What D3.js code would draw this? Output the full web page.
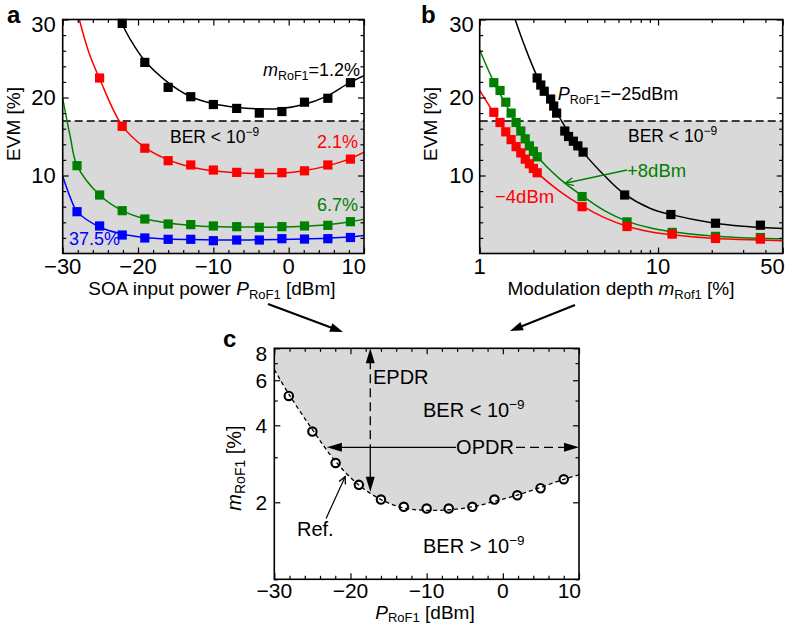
<!DOCTYPE html>
<html><head><meta charset="utf-8">
<script src="https://cdn.jsdelivr.net/npm/d3@7"></script>
<style>
body{margin:0;background:#fff}
svg{display:block;font-family:"Liberation Sans",Arial,Helvetica,sans-serif}
</style></head><body>
<svg id="fig" width="795" height="626"></svg>
<script>
// ---------- panel a: EVM vs SOA input power, one series per modulation depth ----------
const powerA = [-28.1, -25.1, -22.1, -19.1, -16, -13, -10, -6.9, -3.9, -0.9, 2.1, 5.2, 8.2];
const evmA_m12  = [null, null, 29.5, 24.5, 21.3, 20.1, 19.1, 18.6, 18.0, 18.2, 19.4, 19.9, 21.9];
const evmA_m21  = [null, 22.5, 16.3, 13.5, 11.9, 11.35, 10.7, 10.4, 10.28, 10.36, 10.6, 11.35, 12.1];
const evmA_m67  = [11.26, 7.5, 5.49, 4.42, 3.78, 3.7, 3.53, 3.44, 3.36, 3.44, 3.53, 3.61, 4.08];
const evmA_m375 = [5.36, 3.53, 2.37, 1.99, 1.82, 1.82, 1.64, 1.73, 1.73, 1.9, 1.85, 1.9, 2.05];
// fitted curves (power, EVM)
const fitA_m12  = [[-22.4,30],[-21,27.4],[-19.1,24.7],[-16,21.9],[-13,20.1],[-10,19.2],[-7,18.75],[-4,18.55],[-1,18.6],[2,19.1],[5,20.15],[8,21.85],[10,22.8]];
const fitA_m21  = [[-27.8,30],[-26.5,25.7],[-25.1,22.4],[-22.1,16.4],[-19.1,13.6],[-16,12.0],[-13,11.1],[-10,10.6],[-7,10.35],[-4,10.25],[-1,10.3],[2,10.6],[5,11.2],[8,12.1],[10,13.0]];
const fitA_m67  = [[-30,19.9],[-29,15.0],[-28.1,11.3],[-25.1,7.5],[-22.1,5.5],[-19.1,4.45],[-16,3.9],[-13,3.6],[-10,3.45],[-7,3.4],[-4,3.38],[-1,3.4],[2,3.5],[5,3.7],[8,4.05],[10,4.4]];
const fitA_m375 = [[-30,9.9],[-29,7.2],[-28.1,5.4],[-25.1,3.4],[-22.1,2.5],[-19.1,2.05],[-16,1.85],[-13,1.78],[-10,1.74],[-7,1.74],[-4,1.75],[-1,1.8],[2,1.86],[5,1.95],[8,2.1],[10,2.3]];

// ---------- panel b: EVM vs modulation depth, one series per SOA input power ----------
const mB_p8  = [1.2, 1.3, 1.4, 1.5, 1.6, 1.7, 1.8, 1.9, 2.0, 2.1, 3.75, 6.7, 12, 21, 37.5];
const evmB_p8  = [21.9, 20.9, 19.4, 18.0, 16.8, 15.7, 14.7, 13.8, 13.1, 12.4, 7.3, 4.05, 2.7, 2.2, 2.05];
const mB_m4  = [1.2, 1.3, 1.4, 1.5, 1.6, 1.7, 1.8, 1.9, 2.0, 2.1, 3.75, 6.7, 12, 21, 37.5];
const evmB_m4  = [18.1, 16.8, 15.6, 14.6, 13.7, 12.9, 12.1, 11.5, 10.9, 10.35, 6.0, 3.46, 2.48, 1.93, 1.84];
const mB_m25 = [2.1, 2.2, 2.3, 2.5, 2.6, 2.7, 3.0, 3.15, 3.35, 3.55, 3.8, 6.5, 11.8, 21, 37.5];
const evmB_m25 = [22.5, 21.6, 20.8, 19.8, 18.9, 18.0, 15.7, 15.0, 14.4, 13.8, 13.0, 7.5, 5.0, 3.88, 3.63];
const fitB_m25 = [[1.58,30],[1.8,26.4],[2.1,22.7],[2.5,19.5],[3,16.3],[3.8,13.0],[5,10.0],[6.5,7.6],[9,5.8],[12,4.95],[20,3.95],[30,3.5],[50,3.2]];
const fitB_p8  = [[1,26.1],[1.2,22.0],[1.5,17.9],[2.1,12.5],[2.8,9.6],[3.75,7.4],[5,5.5],[6.7,4.15],[9,3.3],[12,2.8],[20,2.25],[37.5,1.95],[50,1.88]];
const fitB_m4  = [[1,20.9],[1.2,18.0],[1.5,14.6],[2.1,10.4],[2.8,8.0],[3.75,6.1],[5,4.6],[6.7,3.5],[9,2.8],[12,2.4],[20,1.95],[37.5,1.72],[50,1.65]];

// ---------- panel c: required modulation depth for BER = 1e-9 ----------
const powerC = [-28.1, -25, -21.95, -18.9, -16, -13, -10, -7.1, -4, -1.1, 1.9, 4.95, 8];
const mC     = [5.21, 3.78, 2.85, 2.34, 2.05, 1.92, 1.89, 1.89, 1.92, 2.05, 2.13, 2.27, 2.46];
const fitC   = [[-30,6.6],[-28.1,5.3],[-25,3.85],[-22,2.9],[-19,2.35],[-16,2.05],[-13,1.9],[-10,1.86],[-7,1.87],[-4,1.92],[-1,2.02],[2,2.14],[5,2.29],[8,2.46],[10,2.56]];

// tick values
const evmTicks = [10, 20, 30];
const evmMinor = d3.range(2, 30, 2).filter(v => v % 10 !== 0);
const powerTicks = [-30, -20, -10, 0, 10];
const powerMinor = d3.range(-28, 10, 2).filter(v => v % 10 !== 0);
const depthTicks = [1, 10, 50];
const depthMinor = [2,3,4,5,6,7,8,9,20,30,40];
const mcTicks = [2, 4, 6, 8];
const mcMinor = [1, 3, 5, 7];
const berLimit = 17;

const C = {red: "#ff0000", green: "#008000", blue: "#0000ff", black: "#000000", grey: "#d9d9d9"};

const svg = d3.select("#fig");
const fmt = d3.format("d");

function rich(g, x, y, parts, o) {
  const size = o.size;
  const t = g.append("text").attr("x", x).attr("y", y)
    .attr("font-size", size).attr("fill", o.fill || "#000")
    .attr("text-anchor", o.anchor || "start");
  if (o.rotate) t.attr("transform", `rotate(-90 ${x} ${y})`);
  let shift = 0;
  const subShift = o.subShift || 0.22;
  parts.forEach(p => {
    const s = t.append("tspan").text(p.t);
    let target = 0;
    if (p.sub) { s.attr("font-size", o.subSize || size * 0.7); target = size * subShift; }
    if (p.sup) { s.attr("font-size", o.subSize || size * 0.7); target = -size * 0.42; }
    if (p.it) s.attr("font-style", "italic");
    if (target - shift !== 0) s.attr("dy", target - shift);
    shift = target;
  });
  return t;
}

// frame with inward ticks on all four sides
function frame(g, x, y, xt, xm, yt, ym, o) {
  const [x0, x1] = x.range(), [y0, y1] = y.range();
  const axes = [
    [d3.axisBottom, x, y0, "x"], [d3.axisTop, x, y1, "x"],
    [d3.axisLeft, y, x0, "y"], [d3.axisRight, y, x1, "y"]];
  axes.forEach(([fn, sc, pos, dir]) => {
    const tr = dir === "x" ? `translate(0,${pos})` : `translate(${pos},0)`;
    const maj = dir === "x" ? xt : yt, mn = dir === "x" ? xm : ym;
    [[maj, 6], [mn, 3.5]].forEach(([vals, len]) => {
      const a = g.append("g").attr("transform", tr)
        .call(fn(sc).tickValues(vals).tickSize(-len).tickFormat(""));
      a.select(".domain").remove();
      a.selectAll("line").attr("stroke", "#000").attr("stroke-width", 1.2);
    });
  });
  g.append("rect").attr("x", x0).attr("y", y1).attr("width", x1 - x0).attr("height", y0 - y1)
    .attr("fill", "none").attr("stroke", "#000").attr("stroke-width", 1.6);
  // tick labels
  const fs = o.fs || 22;
  const xoff = o.xoff || 20;
  xt.forEach((v, i) => {
    const last = i === xt.length - 1;
    g.append("text").attr("x", last ? x1 + 2 : x(v)).attr("y", y0 + xoff)
      .attr("text-anchor", last ? "end" : "middle").attr("font-size", fs).text(o.xfmt(v));
  });
  yt.forEach(v => {
    if (o.ylab && !o.ylab.includes(v)) return;
    const yy = Math.max(y(v), y1 + 5);
    g.append("text").attr("x", x0 - o.ygap).attr("y", yy).attr("dy", "0.36em")
      .attr("text-anchor", "end").attr("font-size", fs).text(fmt(v));
  });
}

function clip(id, x, y) {
  const [x0, x1] = x.range(), [y0, y1] = y.range();
  svg.append("clipPath").attr("id", id).append("rect")
    .attr("x", x0).attr("y", y1).attr("width", x1 - x0).attr("height", y0 - y1);
}

function arrowHead(g, tip, from, len, wid, filled, color) {
  const dx = tip[0] - from[0], dy = tip[1] - from[1], L = Math.hypot(dx, dy);
  const ux = dx / L, uy = dy / L, px = -uy, py = ux;
  const bx = tip[0] - ux * len, by = tip[1] - uy * len;
  const p1 = [bx + px * wid / 2, by + py * wid / 2], p2 = [bx - px * wid / 2, by - py * wid / 2];
  if (filled) {
    g.append("path").attr("d", `M${tip}L${p1}L${p2}Z`).attr("fill", color);
  } else {
    g.append("path").attr("d", `M${p1}L${tip}L${p2}`).attr("fill", "none")
      .attr("stroke", color).attr("stroke-width", 1.3);
  }
}

function squares(g, xs, ys, x, y, color) {
  g.selectAll(null).data(xs.map((v, i) => [v, ys[i]]).filter(d => d[1] != null))
    .join("rect")
    .attr("x", d => x(d[0]) - 4.6).attr("y", d => y(d[1]) - 4.6)
    .attr("width", 9.2).attr("height", 9.2).attr("fill", color);
}

function fitLine(g, pts, x, y, color, clipId) {
  g.append("path").datum(pts)
    .attr("d", d3.line().x(d => x(d[0])).y(d => y(d[1])).curve(d3.curveCatmullRom.alpha(0.5)))
    .attr("fill", "none").attr("stroke", color).attr("stroke-width", 1.5)
    .attr("clip-path", `url(#${clipId})`);
}

// ================= panel a =================
const xA = d3.scaleLinear().domain([-30, 10]).range([62.7, 364]);
const yA = d3.scaleLinear().domain([0, 30]).range([253.5, 19.5]);
clip("clipA", xA, yA);
const gA = svg.append("g");
gA.append("rect").attr("x", xA(-30)).attr("y", yA(berLimit)).attr("width", xA(10) - xA(-30))
  .attr("height", yA(0) - yA(berLimit)).attr("fill", C.grey);
gA.append("line").attr("x1", xA(-30)).attr("x2", xA(10)).attr("y1", yA(berLimit)).attr("y2", yA(berLimit))
  .attr("stroke", "#000").attr("stroke-width", 1.5).attr("stroke-dasharray", "8,4");
[[fitA_m12, C.black], [fitA_m21, C.red], [fitA_m67, C.green], [fitA_m375, C.blue]]
  .forEach(([p, c]) => fitLine(gA, p, xA, yA, c, "clipA"));
[[evmA_m12, C.black], [evmA_m21, C.red], [evmA_m67, C.green], [evmA_m375, C.blue]]
  .forEach(([v, c]) => squares(gA, powerA, v, xA, yA, c));
frame(gA, xA, yA, powerTicks, powerMinor, evmTicks, evmMinor, {xfmt: fmt, ygap: 7});
rich(gA, 263, 76, [{t: "m", it: true}, {t: "RoF1", sub: true}, {t: "=1.2%"}], {size: 18, subSize: 12.5});
rich(gA, 170, 143, [{t: "BER < 10"}, {t: "−9", sup: true}], {size: 17.5, subSize: 12});
rich(gA, 358, 148, [{t: "2.1%"}], {size: 18, fill: C.red, anchor: "end"});
rich(gA, 358, 211, [{t: "6.7%"}], {size: 18, fill: C.green, anchor: "end"});
rich(gA, 69, 245, [{t: "37.5%"}], {size: 18, fill: C.blue});
rich(gA, 212, 295, [{t: "SOA input power "}, {t: "P", it: true}, {t: "RoF1", sub: true}, {t: " [dBm]"}],
  {size: 19, subSize: 13, anchor: "middle"});
rich(gA, 20, 124, [{t: "EVM [%]"}], {size: 19, anchor: "middle", rotate: true});
svg.append("text").attr("x", 7).attr("y", 23).attr("font-size", 24).attr("font-weight", "bold").text("a");

// ================= panel b =================
const xB = d3.scaleLog().domain([1, 50]).range([479.7, 782.7]);
const yB = d3.scaleLinear().domain([0, 30]).range([253.5, 19.5]);
clip("clipB", xB, yB);
const gB = svg.append("g");
gB.append("rect").attr("x", xB(1)).attr("y", yB(berLimit)).attr("width", xB(50) - xB(1))
  .attr("height", yB(0) - yB(berLimit)).attr("fill", C.grey);
gB.append("line").attr("x1", xB(1)).attr("x2", xB(50)).attr("y1", yB(berLimit)).attr("y2", yB(berLimit))
  .attr("stroke", "#000").attr("stroke-width", 1.5).attr("stroke-dasharray", "8,4");
[[fitB_m25, C.black], [fitB_p8, C.green], [fitB_m4, C.red]]
  .forEach(([p, c]) => fitLine(gB, p, xB, yB, c, "clipB"));
squares(gB, mB_m25, evmB_m25, xB, yB, C.black);
squares(gB, mB_p8, evmB_p8, xB, yB, C.green);
squares(gB, mB_m4, evmB_m4, xB, yB, C.red);
frame(gB, xB, yB, depthTicks, depthMinor, evmTicks, evmMinor, {xfmt: fmt, ygap: 6});
rich(gB, 557.7, 100, [{t: "P", it: true}, {t: "RoF1", sub: true}, {t: "=−25dBm"}], {size: 18, subSize: 12.5});
rich(gB, 628, 142, [{t: "BER < 10"}, {t: "−9", sup: true}], {size: 17.5, subSize: 12});
rich(gB, 627, 177, [{t: "+8dBm"}], {size: 18.5, fill: C.green});
rich(gB, 495, 203, [{t: "−4dBm"}], {size: 18.5, fill: C.red});
{
  const from = [xB(6.7), yB(10.7)], tip = [xB(3.02), yB(9.0)];
  gB.append("line").attr("x1", from[0]).attr("y1", from[1]).attr("x2", tip[0]).attr("y2", tip[1])
    .attr("stroke", C.green).attr("stroke-width", 1.4);
  arrowHead(gB, tip, from, 8, 8, false, C.green);
}
rich(gB, 621, 295, [{t: "Modulation depth "}, {t: "m", it: true}, {t: "Rof1", sub: true}, {t: " [%]"}],
  {size: 19, subSize: 13, anchor: "middle"});
rich(gB, 437, 124, [{t: "EVM [%]"}], {size: 19, anchor: "middle", rotate: true});
svg.append("text").attr("x", 421).attr("y", 23).attr("font-size", 24).attr("font-weight", "bold").text("b");

// ================= connecting arrows =================
[[[268, 304], [343, 332]], [[575, 305], [510, 331]]].forEach(([a, b]) => {
  const L = Math.hypot(b[0] - a[0], b[1] - a[1]);
  const e = [b[0] - (b[0] - a[0]) / L * 10, b[1] - (b[1] - a[1]) / L * 10];
  svg.append("line").attr("x1", a[0]).attr("y1", a[1]).attr("x2", e[0]).attr("y2", e[1])
    .attr("stroke", "#000").attr("stroke-width", 2);
  arrowHead(svg, b, a, 13, 9, true, "#000");
});

// ================= panel c =================
const xC = d3.scaleLinear().domain([-30, 10]).range([274.3, 579]);
const yC = d3.scaleLog().domain([1, 8]).range([579.3, 348.3]);
clip("clipC", xC, yC);
const gC = svg.append("g");
gC.append("path").datum(fitC)
  .attr("d", d3.area().x(d => xC(d[0])).y0(yC(8)).y1(d => yC(d[1])).curve(d3.curveCatmullRom.alpha(0.5)))
  .attr("fill", C.grey).attr("clip-path", "url(#clipC)");
gC.selectAll(null).data(powerC.map((v, i) => [v, mC[i]])).join("circle")
  .attr("cx", d => xC(d[0])).attr("cy", d => yC(d[1])).attr("r", 4.2)
  .attr("fill", "#fff").attr("stroke", "#000").attr("stroke-width", 2.1);
gC.append("path").datum(fitC)
  .attr("d", d3.line().x(d => xC(d[0])).y(d => yC(d[1])).curve(d3.curveCatmullRom.alpha(0.5)))
  .attr("fill", "none").attr("stroke", "#000").attr("stroke-width", 1.3)
  .attr("stroke-dasharray", "4,3").attr("clip-path", "url(#clipC)");
frame(gC, xC, yC, powerTicks, powerMinor, mcTicks, mcMinor, {xfmt: fmt, ygap: 7, fs: 21, xoff: 18.5});

// EPDR: vertical double arrow at fixed power
{
  const xe = xC(-17.4), yTop = yC(8), yBot = yC(2.2), yMid = yC(3.28);
  gC.append("line").attr("x1", xe).attr("x2", xe).attr("y1", yTop + 12).attr("y2", yMid)
    .attr("stroke", "#000").attr("stroke-width", 1.3).attr("stroke-dasharray", "9,5");
  gC.append("line").attr("x1", xe).attr("x2", xe).attr("y1", yMid).attr("y2", yBot - 12)
    .attr("stroke", "#000").attr("stroke-width", 1.3);
  arrowHead(gC, [xe, yTop], [xe, yTop + 20], 15, 9, true, "#000");
  arrowHead(gC, [xe, yBot], [xe, yBot - 20], 15, 9, true, "#000");
}
// OPDR: horizontal double arrow at fixed modulation depth
{
  const yo = yC(3.28), xl = xC(-23.1), xr = xC(10);
  gC.append("line").attr("x1", xl + 12).attr("x2", 456).attr("y1", yo).attr("y2", yo)
    .attr("stroke", "#000").attr("stroke-width", 1.3);
  gC.append("line").attr("x1", 516).attr("x2", xr - 12).attr("y1", yo).attr("y2", yo)
    .attr("stroke", "#000").attr("stroke-width", 1.3).attr("stroke-dasharray", "9,5");
  arrowHead(gC, [xl, yo], [xl + 20, yo], 15, 9, true, "#000");
  arrowHead(gC, [xr, yo], [xr - 20, yo], 15, 9, true, "#000");
  rich(gC, 485, yo + 7, [{t: "OPDR"}], {size: 20, anchor: "middle"});
}
// reference marker
{
  const from = [xC(-23.2), yC(1.73)], tip = [xC(-20.7), yC(2.52)];
  gC.append("line").attr("x1", from[0]).attr("y1", from[1]).attr("x2", tip[0]).attr("y2", tip[1])
    .attr("stroke", "#000").attr("stroke-width", 1.2);
  arrowHead(gC, tip, from, 7, 7, false, "#000");
}
rich(gC, 373, 384, [{t: "EPDR"}], {size: 20});
rich(gC, 423, 417, [{t: "BER < 10"}, {t: "−9", sup: true}], {size: 20, subSize: 13.5});
rich(gC, 423, 553, [{t: "BER > 10"}, {t: "−9", sup: true}], {size: 20, subSize: 13.5});
rich(gC, 297, 536, [{t: "Ref."}], {size: 20});
rich(gC, 425, 619, [{t: "P", it: true}, {t: "RoF1", sub: true}, {t: " [dBm]"}], {size: 19, subSize: 13, subShift: 0.18, anchor: "middle"});
rich(gC, 241, 468, [{t: "m", it: true}, {t: "RoF1", sub: true}, {t: " [%]"}], {size: 20, subSize: 14, anchor: "middle", rotate: true});
svg.append("text").attr("x", 223).attr("y", 347).attr("font-size", 24).attr("font-weight", "bold").text("c");
</script>
</body></html>
